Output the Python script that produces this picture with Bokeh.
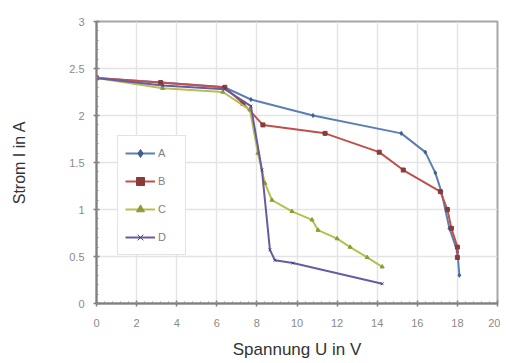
from bokeh.plotting import figure
from bokeh.models import Range1d, FixedTicker, Legend, LegendItem
from bokeh.embed import file_html
from bokeh.resources import INLINE

# ---- data ----
a_x = [0, 3.2, 6.4, 7.7, 10.8, 15.2, 16.4, 16.9, 17.2, 17.6, 18.0, 18.1]
a_y = [2.40, 2.35, 2.30, 2.17, 2.00, 1.81, 1.61, 1.39, 1.19, 0.80, 0.55, 0.30]

b_x = [0, 3.2, 6.4, 7.3, 8.3, 11.4, 14.1, 15.3, 17.15, 17.5, 17.7, 18.0, 18.0]
b_y = [2.40, 2.35, 2.30, 2.13, 1.90, 1.81, 1.61, 1.42, 1.19, 1.00, 0.80, 0.60, 0.49]

c_x = [0, 3.3, 6.3, 7.65, 8.05, 8.4, 8.75, 9.75, 10.75, 11.05, 12.0, 12.65, 13.5, 14.25]
c_y = [2.40, 2.29, 2.25, 2.06, 1.60, 1.28, 1.10, 0.98, 0.89, 0.78, 0.69, 0.60, 0.49, 0.39]

d_x = [0, 3.3, 6.4, 7.7, 8.25, 8.65, 8.9, 9.8, 14.25]
d_y = [2.40, 2.32, 2.28, 2.10, 1.42, 0.57, 0.46, 0.43, 0.21]

series_names = ["A", "B", "C", "D"]
x_ticks = [0, 2, 4, 6, 8, 10, 12, 14, 16, 18, 20]
x_tick_labels = ["0", "2", "4", "6", "8", "10", "12", "14", "16", "18", "20"]
y_ticks = [0, 0.5, 1, 1.5, 2, 2.5, 3]
y_tick_labels = ["0", "0.5", "1", "1.5", "2", "2.5", "3"]

colors = ["#5b7fb3", "#c0504d", "#b5c050", "#6a5aa0"]
mcolors = ["#3f5f90", "#8a3a38", "#8c9a38", "#4a3f80"]
markers = ["diamond", "square", "triangle", "x"]

p = figure(width=500, height=363, output_backend="svg", toolbar_location=None,
           x_range=Range1d(0, 20), y_range=Range1d(0, 3),
           min_border_left=96, min_border_right=3, min_border_top=21, min_border_bottom=60)
p.background_fill_color = "white"
p.border_fill_color = "white"
p.outline_line_color = "#a6a6a6"
p.outline_line_width = 2

xminor = [i * 0.4 for i in range(51)]
yminor = [i * 0.1 for i in range(31)]
p.xaxis.ticker = FixedTicker(ticks=x_ticks, minor_ticks=xminor)
p.yaxis.ticker = FixedTicker(ticks=y_ticks, minor_ticks=yminor)
p.xaxis.major_label_overrides = {t: l for t, l in zip(x_ticks, x_tick_labels)}
p.yaxis.major_label_overrides = {t: l for t, l in zip(y_ticks, y_tick_labels)}

for ax in (p.xaxis, p.yaxis):
    ax.axis_line_color = "#7f7f7f"
    ax.axis_line_width = 2
    ax.major_tick_line_color = "#7f7f7f"
    ax.major_tick_line_width = 1.5
    ax.major_tick_in = 3
    ax.major_tick_out = 3
    ax.minor_tick_line_color = "#8f8f8f"
    ax.minor_tick_in = 2
    ax.minor_tick_out = 0
    ax.major_label_text_color = "#8a8a8a"
    ax.major_label_text_font = "Liberation Sans"
    ax.major_label_text_font_size = "11px"
    ax.axis_label_text_font = "Liberation Sans"
    ax.axis_label_text_font_style = "normal"
    ax.axis_label_text_color = "#333333"

p.xaxis.axis_label = "Spannung U in V"
p.xaxis.axis_label_text_font_size = "17px"
p.xaxis.major_label_standoff = 12
p.xaxis.axis_label_standoff = 10
p.yaxis.axis_label = "Strom I in A"
p.yaxis.axis_label_text_font_size = "16px"
p.yaxis.major_label_standoff = 9
p.yaxis.axis_label_standoff = 38

p.xgrid.ticker = FixedTicker(ticks=x_ticks)
p.ygrid.ticker = FixedTicker(ticks=y_ticks)
p.xgrid.grid_line_color = "#e4e4e4"
p.ygrid.grid_line_color = "#e4e4e4"
p.xgrid.grid_line_width = 1.5
p.ygrid.grid_line_width = 1.5

items = []
data = [(a_x, a_y), (b_x, b_y), (c_x, c_y), (d_x, d_y)]
for (xs, ys), name, c, mc, mk in zip(data, series_names, colors, mcolors, markers):
    r1 = p.line(xs, ys, line_color=c, line_width=2)
    r2 = p.scatter(xs, ys, marker=mk, size=4, fill_color=mc, line_color=mc)
    items.append(LegendItem(label=name, renderers=[r1, r2]))

legend = Legend(items=items, location=(21, 48))
legend.border_line_color = "#c8c8c8"
legend.border_line_width = 1.5
legend.background_fill_color = "white"
legend.background_fill_alpha = 1
legend.label_text_font = "Liberation Sans"
legend.label_text_font_size = "11px"
legend.label_text_color = "#808080"
legend.glyph_width = 30
legend.glyph_height = 20
legend.label_height = 20
legend.label_standoff = 3
legend.spacing = 8
legend.padding = 7
legend.margin = 0
p.add_layout(legend, "center")

open("out.html", "w").write(file_html(p, INLINE))
